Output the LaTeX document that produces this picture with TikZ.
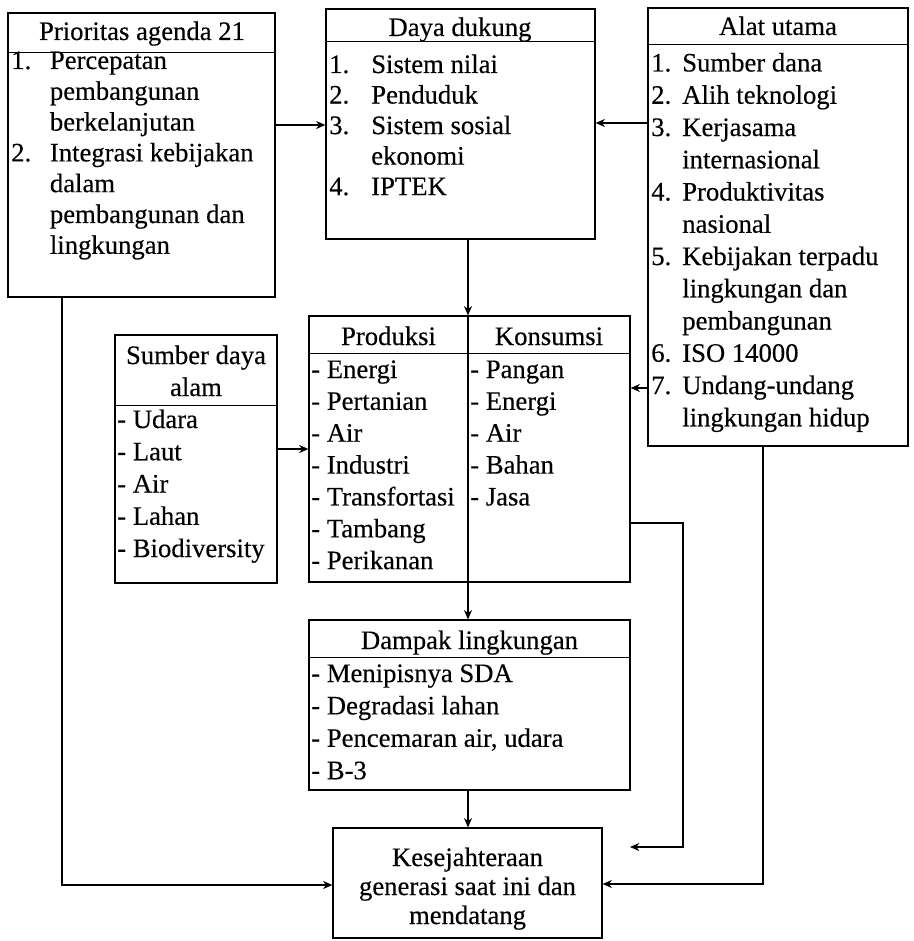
\documentclass[tikz,border=0pt]{standalone}
\usepackage{fontspec}
\setmainfont{Liberation Serif}[FakeBold=0.35]
\usetikzlibrary{fit,arrows.meta}
\begin{document}
\begin{tikzpicture}[x=0.75pt,y=-0.75pt,
  box/.style={draw,line width=0.9pt,inner sep=0pt},
  sepline/.style={line width=0.7pt},
  arr/.style={line width=0.9pt,-{Stealth[length=7pt,width=6pt]}},
  ln/.style={line width=0.9pt},
  txt/.style={anchor=base west,inner sep=0pt},
  ttl/.style={anchor=base,inner sep=0pt,font=\fontsize{20}{24}\selectfont}]
\useasboundingbox (0,0) rectangle (913,941);

% boxes
\node[box,fit={(8,13)(275,297)}] (P) {};
\node[box,fit={(326,9)(595,239)}] (D) {};
\node[box,fit={(648,8)(908,446)}] (A) {};
\node[box,fit={(115,335)(277,583)}] (S) {};
\node[box,fit={(309,316)(630,582)}] (PK) {};
\node[box,fit={(309,620)(630,790)}] (Dm) {};
\node[box,fit={(333,828)(602,938)}] (K) {};

% header separators
\draw[sepline] (P.west |- 0,52) -- (P.east |- 0,52);
\draw[sepline] (D.west |- 0,41) -- (D.east |- 0,41);
\draw[sepline] (A.west |- 0,44) -- (A.east |- 0,44);
\draw[sepline] (S.west |- 0,405) -- (S.east |- 0,405);
\draw[sepline] (PK.west |- 0,353) -- (PK.east |- 0,353);
\draw[ln] (PK.north -| 468,0) -- (PK.south -| 468,0);
\draw[sepline] (Dm.west |- 0,657) -- (Dm.east |- 0,657);

% titles
\node[ttl] (Pt) at (142,40) {Prioritas agenda 21};
\node[ttl] (Dt) at (460,36) {Daya dukung};
\node[ttl] (At) at (778,35) {Alat utama};
\node[ttl] (St) at (196,364) {\begin{tabular}[t]{@{}c@{}}Sumber daya\\alam\end{tabular}};
\node[ttl] (PKt1) at (388.5,345) {Produksi};
\node[ttl] (PKt2) at (549,345) {Konsumsi};
\node[ttl] (Dmt) at (469.5,649) {Dampak lingkungan};

% lists
\node[txt] (Pl) at (11,69) {\fontsize{20}{23.1}\selectfont\begin{tabular}[t]{@{}p{29pt}@{}l@{}}
1. & Percepatan\\ & pembangunan\\ & berkelanjutan\\
2. & Integrasi kebijakan\\ & dalam\\ & pembangunan dan\\ & lingkungan\end{tabular}};
\node[txt] (Dl) at (329,73) {\fontsize{20}{22.9}\selectfont\begin{tabular}[t]{@{}p{31.5pt}@{}l@{}}
1. & Sistem nilai\\ 2. & Penduduk\\ 3. & Sistem sosial\\ & ekonomi\\ 4. & IPTEK\end{tabular}};
\node[txt] (Al) at (651,71.5) {\fontsize{20}{24.19}\selectfont\begin{tabular}[t]{@{}p{23.25pt}@{}l@{}}
1. & Sumber dana\\ 2. & Alih teknologi\\ 3. & Kerjasama\\ & internasional\\
4. & Produktivitas\\ & nasional\\ 5. & Kebijakan terpadu\\ & lingkungan dan\\ & pembangunan\\
6. & ISO 14000\\ 7. & Undang-undang\\ & lingkungan hidup\end{tabular}};
\node[txt] (Sl) at (117,428) {\fontsize{20}{24.2}\selectfont\begin{tabular}[t]{@{}l@{}}
- Udara\\- Laut\\- Air\\- Lahan\\- Biodiversity\end{tabular}};
\node[txt] (PKl1) at (311,378) {\fontsize{20}{23.9}\selectfont\begin{tabular}[t]{@{}l@{}}
- Energi\\- Pertanian\\- Air\\- Industri\\- Transfortasi\\- Tambang\\- Perikanan\end{tabular}};
\node[txt] (PKl2) at (470,378) {\fontsize{20}{23.9}\selectfont\begin{tabular}[t]{@{}l@{}}
- Pangan\\- Energi\\- Air\\- Bahan\\- Jasa\end{tabular}};
\node[txt] (Dml) at (311,682) {\fontsize{20}{24.3}\selectfont\begin{tabular}[t]{@{}l@{}}
- Menipisnya SDA\\- Degradasi lahan\\- Pencemaran air, udara\\- B-3\end{tabular}};
\node[ttl] (Kt) at (467.5,866) {\fontsize{20}{21.75}\selectfont\begin{tabular}[t]{@{}c@{}}
Kesejahteraan\\generasi saat ini dan\\mendatang\end{tabular}};

% connectors
\draw[arr] (P.east |- 0,125) -- (D.west |- 0,125);
\draw[arr] (A.west |- 0,123) -- (D.east |- 0,123);
\draw[arr] (D.south -| 468,0) -- (PK.north -| 468,0);
\draw[arr] (S.east |- 0,449) -- (PK.west |- 0,449);
\draw[arr] (A.west |- 0,388) -- (PK.east |- 0,388);
\draw[arr] (PK.south -| 468,0) -- (Dm.north -| 468,0);
\draw[arr] (Dm.south -| 468,0) -- (K.north -| 468,0);
\draw[arr] (P.south -| 62,0) |- (K.west |- 0,885);
\coordinate (kend) at (630,847);
\draw[arr] (PK.east |- 0,523) -| (683,847) -- (kend);
\draw[arr] (A.south -| 763,0) |- (K.east |- 0,884);
\end{tikzpicture}
\end{document}
